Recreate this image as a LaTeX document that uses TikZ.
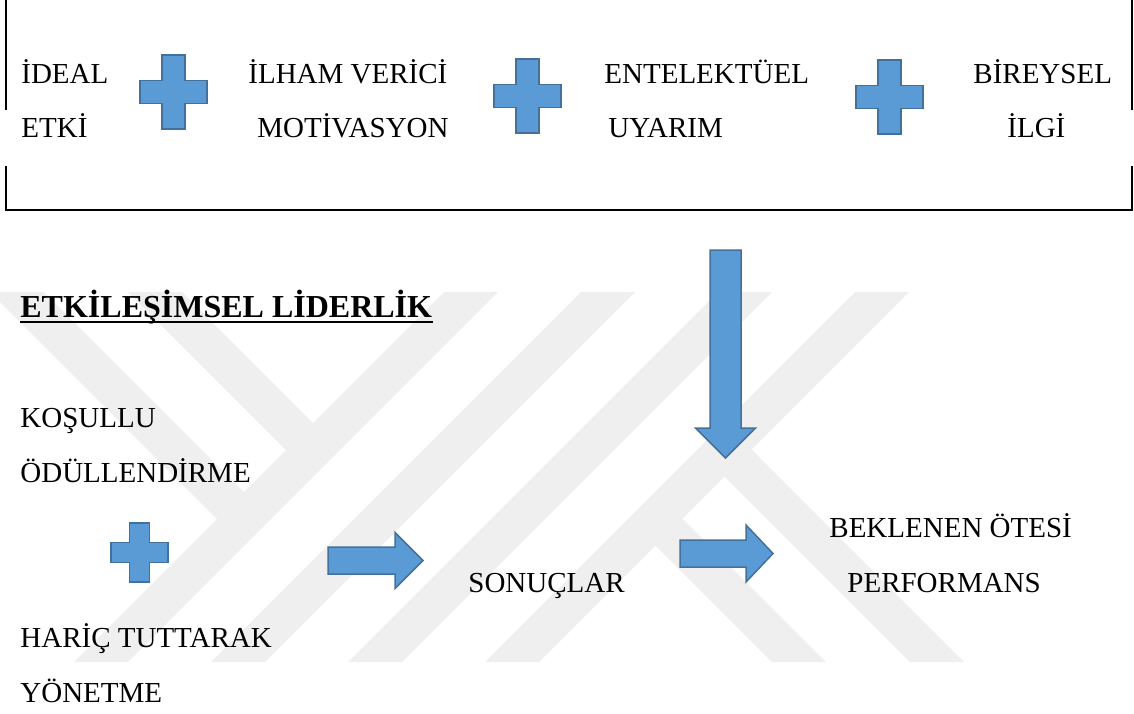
\documentclass[tikz,border=0pt]{standalone}
\usepackage{fontspec}
\setmainfont{Liberation Serif}
\usetikzlibrary{positioning}

\definecolor{blockblue}{RGB}{91,155,213}
\definecolor{blockedge}{RGB}{65,113,156}
\definecolor{wmgray}{RGB}{239,239,239}

% plus sign: centre x, centre y, half width, half height, half bar
\newcommand{\plussign}[5]{%
  \filldraw[blk,shift={(#1,#2)}] (-#5,-#4) -- (#5,-#4) -- (#5,-#5) -- (#3,-#5)
    -- (#3,#5) -- (#5,#5) -- (#5,#4) -- (-#5,#4) -- (-#5,#5) -- (-#3,#5)
    -- (-#3,-#5) -- (-#5,-#5) -- cycle;}
% block arrow: start x, centre y, angle, shaft length, head length, half shaft, half head
\newcommand{\blockarrow}[7]{%
  \filldraw[blk,shift={(#1,#2)},rotate=#3] (0,-#6) -- (#4,-#6) -- (#4,-#7)
    -- ({#4+#5},0) -- (#4,#7) -- (#4,#6) -- (0,#6) -- cycle;}

\begin{document}
\begin{tikzpicture}[x=0.5pt,y=-0.5pt]

  \tikzset{txt/.style = {anchor=base west, inner sep=0pt, font=\fontsize{14.5}{17}\selectfont}}
  \tikzset{lead/.style = {anchor=base west, inner sep=0pt, font=\fontsize{16}{19}\selectfont\bfseries}}
  \tikzset{blk/.style = {fill=blockblue, draw=blockedge, line width=0.75pt}}
  \tikzset{frame/.style = {line width=1pt}}
  \tikzset{wm/.style = {fill=wmgray}}
  \useasboundingbox (0,0) rectangle (1134,713);

  % watermark
  \begin{scope}
    \clip (0,292) rectangle (1134,662);
    \foreach \a in {736,873,1010,1147}
      \fill[wm] ({\a-292},292) -- ({\a+54-292},292) -- ({\a+54-662},662) -- ({\a-662},662) -- cycle;
    \foreach \c in {110,248}
      \fill[wm] ({292-\c-54},292) -- ({292-\c},292) -- ({(750-\c)/2},{(750+\c)/2})
        -- ({(750-\c-54)/2},{(750+\c+54)/2}) -- cycle;
    \foreach \c in {-164,-302}
      \fill[wm] ({(1190-\c)/2},{(1190+\c)/2}) -- ({(1190-\c-54)/2},{(1190+\c+54)/2})
        -- ({662-\c-54},662) -- ({662-\c},662) -- cycle;
  \end{scope}

  % frame
  \draw[frame] (6,0) -- (6,110);
  \draw[frame] (6,166) -- (6,210) -- (1132,210) -- (1132,166);
  \draw[frame] (1132,110) -- (1132,0);

  % top row
  \node[txt] (ideal) at (21,83) {İDEAL};
  \node[txt] (etki) at (21,137) {ETKİ};
  \node[txt] (ilham) at (248,83) {İLHAM VERİCİ};
  \node[txt] (motiv) at (257,137) {MOTİVASYON};
  \node[txt] (entel) at (604,83) {ENTELEKTÜEL};
  \node[txt] (uyarim) at (608,137) {UYARIM};
  \node[txt] (birey) at (973,83) {BİREYSEL};
  \node[txt] (ilgi) at (1007,137) {İLGİ};
  \plussign{173.5}{92}{33.5}{37}{11.5}
  \plussign{527.5}{96}{33.5}{37}{11.5}
  \plussign{889.5}{97}{33.5}{37}{11.5}

  % heading
  \node[lead] (etkil) at (20,317) {ETKİLEŞİMSEL LİDERLİK};
  \draw[line width=1.25pt] ([yshift=-2.6pt]etkil.base west) -- ([yshift=-2.6pt]etkil.base east);

  % lower part
  \node[txt] (kosul) at (20,427) {KOŞULLU};
  \node[txt] (odul) at (20,482) {ÖDÜLLENDİRME};
  \node[txt] (haric) at (20,647) {HARİÇ TUTTARAK};
  \node[txt] (yonet) at (20,702) {YÖNETME};
  \plussign{139.5}{552.5}{28.5}{29.5}{10}
  \node[txt] (sonuc) at (468,592) {SONUÇLAR};
  \node[txt] (bekl) at (829,537) {BEKLENEN ÖTESİ};
  \node[txt] (perf) at (847,592) {PERFORMANS};

  % arrows
  \blockarrow{328}{560.5}{0}{67}{28}{13.5}{28}
  \blockarrow{680}{553.5}{0}{66}{27}{13.5}{28.5}
  \blockarrow{725.5}{250}{-90}{178}{30}{15.5}{30}
\end{tikzpicture}
\end{document}
